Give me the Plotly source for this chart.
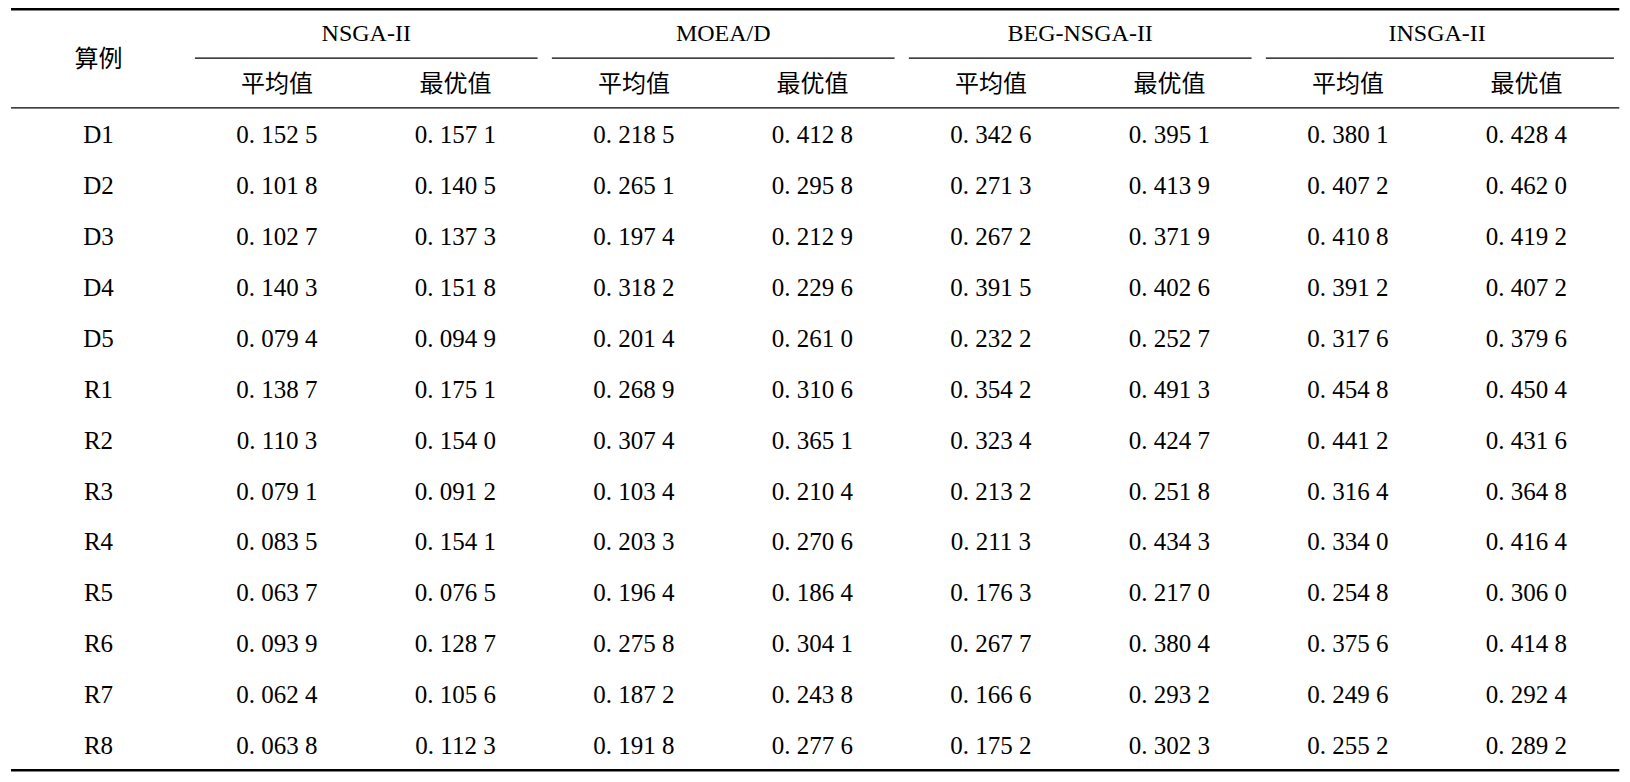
import plotly.graph_objects as go

# Data
cases = ["D1", "D2", "D3", "D4", "D5", "R1", "R2", "R3", "R4", "R5", "R6", "R7", "R8"]
methods = ["NSGA-II", "MOEA/D", "BEG-NSGA-II", "INSGA-II"]
stats = ["平均值", "最优值"]
corner_label = "算例"

nsga2_mean = [0.1525, 0.1018, 0.1027, 0.1403, 0.0794, 0.1387, 0.1103, 0.0791, 0.0835, 0.0637, 0.0939, 0.0624, 0.0638]
nsga2_best = [0.1571, 0.1405, 0.1373, 0.1518, 0.0949, 0.1751, 0.1540, 0.0912, 0.1541, 0.0765, 0.1287, 0.1056, 0.1123]
moead_mean = [0.2185, 0.2651, 0.1974, 0.3182, 0.2014, 0.2689, 0.3074, 0.1034, 0.2033, 0.1964, 0.2758, 0.1872, 0.1918]
moead_best = [0.4128, 0.2958, 0.2129, 0.2296, 0.2610, 0.3106, 0.3651, 0.2104, 0.2706, 0.1864, 0.3041, 0.2438, 0.2776]
beg_mean = [0.3426, 0.2713, 0.2672, 0.3915, 0.2322, 0.3542, 0.3234, 0.2132, 0.2113, 0.1763, 0.2677, 0.1666, 0.1752]
beg_best = [0.3951, 0.4139, 0.3719, 0.4026, 0.2527, 0.4913, 0.4247, 0.2518, 0.4343, 0.2170, 0.3804, 0.2932, 0.3023]
insga_mean = [0.3801, 0.4072, 0.4108, 0.3912, 0.3176, 0.4548, 0.4412, 0.3164, 0.3340, 0.2548, 0.3756, 0.2496, 0.2552]
insga_best = [0.4284, 0.4620, 0.4192, 0.4072, 0.3796, 0.4504, 0.4316, 0.3648, 0.4164, 0.3060, 0.4148, 0.2924, 0.2892]

columns = [nsga2_mean, nsga2_best, moead_mean, moead_best, beg_mean, beg_best, insga_mean, insga_best]

FONT = "Liberation Serif, Times New Roman, Noto Sans CJK SC"


def fmt(v):
    # 0.1525 -> "0. 152 5" (journal style digit grouping)
    s = f"{v:.4f}"
    return s[:2] + " " + s[2:5] + " " + s[5:]


# body cells: column 0 = case label, columns 1..8 = values
xs, ys, txt = [], [], []
for r, name in enumerate(cases):
    xs.append(0)
    ys.append(r)
    txt.append(name)
    for c, col in enumerate(columns):
        xs.append(c + 1)
        ys.append(r)
        txt.append(fmt(col[r]))

body = go.Scatter(x=xs, y=ys, text=txt, mode="text", textposition="middle center",
                  textfont=dict(family=FONT, size=25, color="black"), hoverinfo="skip",
                  showlegend=False)

# header: group names, sub labels, corner label
hx, hy, ht = [], [], []
for g, m in enumerate(methods):
    hx.append(2 * g + 1.5)
    hy.append(-2)
    ht.append(m)
sx, sy, st = [], [], []
for g in range(len(methods)):
    for k, s in enumerate(stats):
        sx.append(2 * g + 1 + k)
        sy.append(-1)
        st.append(s)

groups = go.Scatter(x=hx, y=hy, text=ht, mode="text", textposition="middle center",
                    textfont=dict(family=FONT, size=24, color="black"), hoverinfo="skip",
                    showlegend=False)
subs = go.Scatter(x=sx, y=sy, text=st, mode="text", textposition="middle center",
                  textfont=dict(family=FONT, size=24, color="black"), hoverinfo="skip",
                  showlegend=False)
corner = go.Scatter(x=[0], y=[-1.5], text=[corner_label], mode="text", textposition="middle center",
                    textfont=dict(family=FONT, size=24, color="black"), hoverinfo="skip",
                    showlegend=False)

n_cols = 1 + len(columns)
left, right = -0.49, n_cols - 0.48
shapes = [
    # top rule sits right at the upper edge of the plot area
    dict(type="line", x0=left, x1=right, y0=-2.51, y1=-2.51, line=dict(color="black", width=2.5)),
    dict(type="line", x0=left, x1=right, y0=-0.57, y1=-0.57, line=dict(color="black", width=1.3)),
    dict(type="line", x0=left, x1=right, y0=len(cases) - 0.56, y1=len(cases) - 0.56,
         line=dict(color="black", width=2.5)),
]
for g in range(len(methods)):
    x1 = 2 * g + 2.46 if g < len(methods) - 1 else right - 0.03
    shapes.append(dict(type="line", x0=2 * g + 0.54, x1=x1, y0=-1.55, y1=-1.55,
                       line=dict(color="black", width=1.3)))

fig = go.Figure(data=[body, groups, subs, corner])
fig.update_layout(
    width=1630, height=782,
    margin=dict(l=0, r=0, t=0, b=0),
    paper_bgcolor="white", plot_bgcolor="white",
    shapes=shapes,
    # ranges shifted to compensate for the 8px page margin
    xaxis=dict(range=[-0.507, 8.625], visible=False, fixedrange=True),
    yaxis=dict(range=[12.829, -2.534], visible=False, fixedrange=True),
    hovermode=False,
)

fig.write_html("out.html")
